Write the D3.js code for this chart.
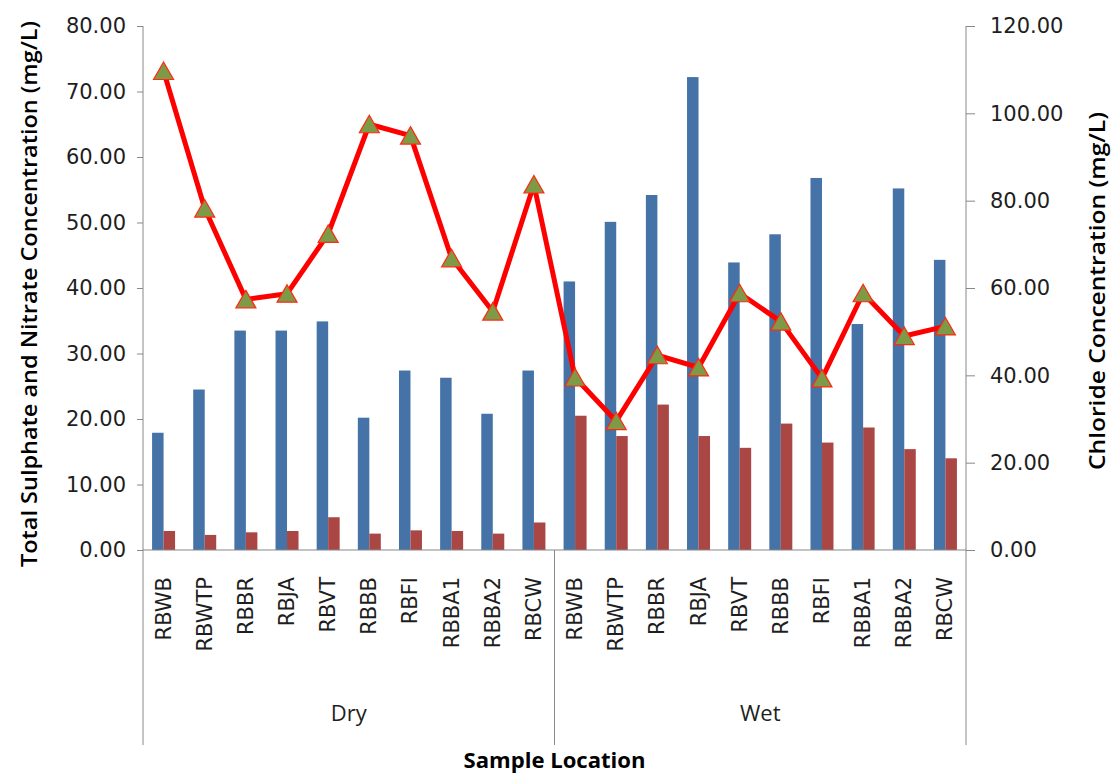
<!DOCTYPE html>
<html>
<head>
<meta charset="utf-8">
<script src="https://cdn.jsdelivr.net/npm/d3@7/dist/d3.min.js"></script>
<style>
  html, body { margin: 0; padding: 0; background: #fff; }
  svg { display: block; }
</style>
</head>
<body>
<svg id="chart" width="1114" height="777"></svg>
<script>
// ---- data ----
const seasons = ["Dry", "Wet"];
const locations = ["RBWB", "RBWTP", "RBBR", "RBJA", "RBVT", "RBBB", "RBFI", "RBBA1", "RBBA2", "RBCW"];
const sulphateDry = [17.9, 24.5, 33.5, 33.5, 34.9, 20.2, 27.4, 26.3, 20.8, 27.4];
const sulphateWet = [41.0, 50.1, 54.2, 72.2, 43.9, 48.2, 56.8, 34.5, 55.2, 44.3];
const nitrateDry = [2.9, 2.3, 2.7, 2.9, 5.0, 2.5, 3.0, 2.9, 2.5, 4.2];
const nitrateWet = [20.5, 17.4, 22.2, 17.4, 15.6, 19.3, 16.4, 18.7, 15.4, 14.0];
const chlorideDry = [109.7, 78.2, 57.4, 58.7, 72.4, 97.5, 94.9, 66.8, 54.6, 83.7];
const chlorideWet = [39.5, 29.5, 44.6, 41.8, 58.8, 52.3, 39.3, 58.8, 49.0, 51.2];
const leftTicks = [0, 10, 20, 30, 40, 50, 60, 70, 80];
const rightTicks = [0, 20, 40, 60, 80, 100, 120];
const leftTitle = "Total Sulphate and Nitrate Concentration (mg/L)";
const rightTitle = "Chloride Concentration (mg/L)";
const xTitle = "Sample Location";

(function () {
// ---- build rows ----
const rows = [];
seasons.forEach((s, si) => {
  const sul = si === 0 ? sulphateDry : sulphateWet;
  const nit = si === 0 ? nitrateDry : nitrateWet;
  const chl = si === 0 ? chlorideDry : chlorideWet;
  locations.forEach((loc, i) => {
    rows.push({ key: s + "|" + loc, season: s, loc, sulphate: sul[i], nitrate: nit[i], chloride: chl[i] });
  });
});

// ---- layout ----
const pLeft = 143, pRight = 966, pTop = 26, pBottom = 550;
const svg = d3.select("#chart");
const x = d3.scaleBand().domain(rows.map(d => d.key)).range([pLeft, pRight]).padding(0);
const xi = d3.scaleBand().domain(["sulphate", "nitrate"]).range([0, x.bandwidth()]).paddingInner(0).paddingOuter(0.79);
const yL = d3.scaleLinear().domain([0, 80]).range([pBottom, pTop]);
const yR = d3.scaleLinear().domain([0, 120]).range([pBottom, pTop]);
const axisColor = "#888888";
const textColor = "#1e1e1e";
const numFont = "'DejaVu Sans', sans-serif";
const titleFont = "'Open Sans', sans-serif";

// ---- bars ----
const colors = { sulphate: "#4572A7", nitrate: "#AA4643" };
const g = svg.append("g");
["sulphate", "nitrate"].forEach(k => {
  g.selectAll("rect." + k).data(rows).join("rect")
    .attr("class", k)
    .attr("x", d => x(d.key) + xi(k))
    .attr("width", xi.bandwidth())
    .attr("y", d => yL(d[k]))
    .attr("height", d => yL(0) - yL(d[k]))
    .attr("fill", colors[k]);
});

// ---- axes ----
const axL = d3.axisLeft(yL).tickValues(leftTicks).tickFormat(d3.format(".2f")).tickSize(6).tickSizeOuter(0).tickPadding(11);
const gL = svg.append("g").attr("transform", `translate(${pLeft},0)`).call(axL);
const axR = d3.axisRight(yR).tickValues(rightTicks).tickFormat(d3.format(".2f")).tickSize(9).tickSizeOuter(0).tickPadding(15);
const gR = svg.append("g").attr("transform", `translate(${pRight},0)`).call(axR);
[gL, gR].forEach(ga => {
  ga.select(".domain").remove();
  ga.selectAll(".tick line").attr("stroke", axisColor);
  ga.selectAll(".tick text").attr("fill", textColor).style("font-family", numFont).style("font-size", "21px");
});

// vertical axis lines + group separators
const sepY2 = 745;
svg.append("line").attr("x1", pLeft).attr("x2", pLeft).attr("y1", pTop).attr("y2", sepY2).attr("stroke", axisColor);
svg.append("line").attr("x1", pRight).attr("x2", pRight).attr("y1", pTop).attr("y2", sepY2).attr("stroke", axisColor);
const mid = x(seasons[1] + "|" + locations[0]);
svg.append("line").attr("x1", mid).attr("x2", mid).attr("y1", pBottom).attr("y2", sepY2).attr("stroke", axisColor);
// horizontal axis
svg.append("line").attr("x1", pLeft).attr("x2", pRight).attr("y1", pBottom).attr("y2", pBottom).attr("stroke", axisColor).attr("stroke-width", 1.2);

// category labels
svg.append("g").selectAll("text").data(rows).join("text")
  .attr("transform", d => `translate(${x(d.key) + x.bandwidth() / 2},577) rotate(-90)`)
  .attr("text-anchor", "end")
  .attr("dominant-baseline", "central")
  .attr("fill", textColor)
  .style("font-family", numFont)
  .style("font-size", "21px")
  .text(d => d.loc);

// season labels
seasons.forEach(s => {
  const xs = rows.filter(d => d.season === s).map(d => x(d.key));
  const cx = (d3.min(xs) + d3.max(xs) + x.bandwidth()) / 2;
  svg.append("text").attr("x", cx).attr("y", 721).attr("text-anchor", "middle")
    .attr("fill", textColor).style("font-family", titleFont).style("font-size", "22px").text(s);
});

// ---- chloride line ----
const line = d3.line().x(d => x(d.key) + x.bandwidth() / 2).y(d => yR(d.chloride));
svg.append("path").datum(rows).attr("d", line)
  .attr("fill", "none").attr("stroke", "#FF0000").attr("stroke-width", 5).attr("stroke-linejoin", "round");
const tri = "M0,-9L10,8.5L-10,8.5Z";
svg.append("g").selectAll("path").data(rows).join("path")
  .attr("transform", d => `translate(${x(d.key) + x.bandwidth() / 2},${yR(d.chloride)})`)
  .attr("d", tri)
  .attr("fill", "#7E9A46")
  .attr("stroke", "#FF2A10")
  .attr("stroke-width", 1.2);

// ---- titles ----
svg.append("text")
  .attr("transform", `translate(37,${(pTop + pBottom) / 2 + 6}) rotate(-90)`)
  .attr("text-anchor", "middle")
  .attr("fill", "#000")
  .style("font-family", titleFont).style("font-weight", "600").style("font-size", "21px")
  .attr("textLength", 546).attr("lengthAdjust", "spacingAndGlyphs")
  .text(leftTitle);
svg.append("text")
  .attr("transform", `translate(1105,${(pTop + pBottom) / 2 + 3}) rotate(-90)`)
  .attr("text-anchor", "middle")
  .attr("fill", "#000")
  .style("font-family", titleFont).style("font-weight", "600").style("font-size", "21px")
  .attr("textLength", 358).attr("lengthAdjust", "spacingAndGlyphs")
  .text(rightTitle);
svg.append("text")
  .attr("x", (pLeft + pRight) / 2).attr("y", 768)
  .attr("text-anchor", "middle")
  .attr("fill", "#000")
  .style("font-family", titleFont).style("font-weight", "700").style("font-size", "21px")
  .attr("textLength", 182).attr("lengthAdjust", "spacingAndGlyphs")
  .text(xTitle);
})();
</script>
</body>
</html>
